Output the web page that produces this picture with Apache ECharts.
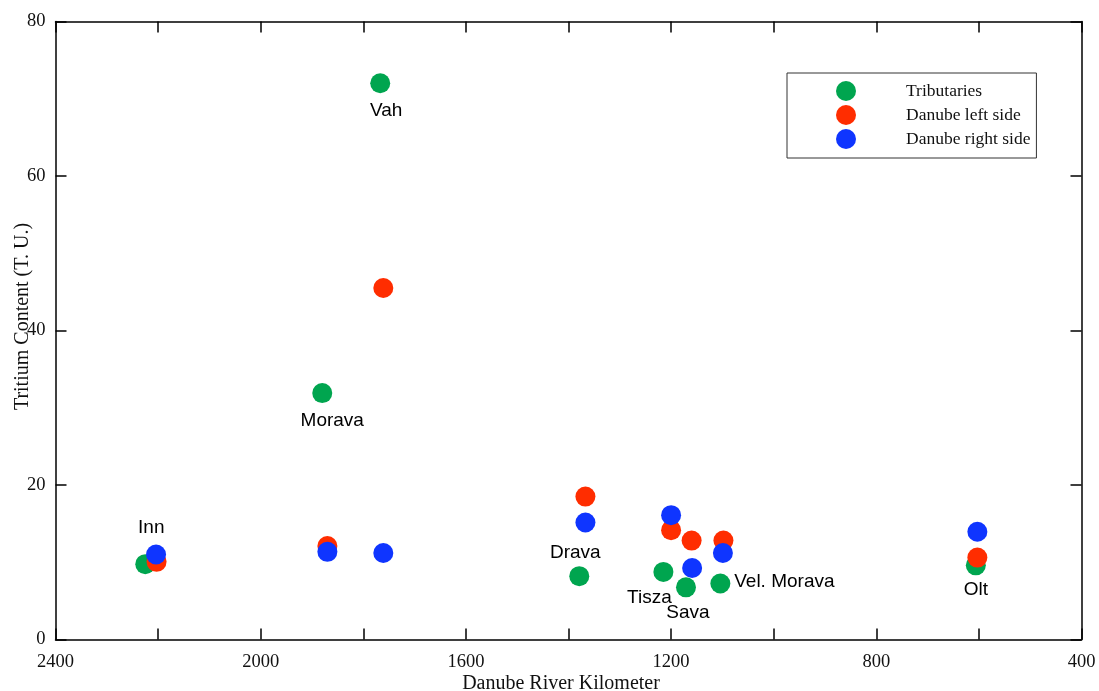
<!DOCTYPE html>
<html>
<head>
<meta charset="utf-8">
<script src="https://cdn.jsdelivr.net/npm/echarts@6/dist/echarts.min.js"></script>
<style>html,body{margin:0;padding:0;background:#fff}#c{width:1099px;height:691px}</style>
</head>
<body>
<div id="c"></div>
<script>
// ---- data ----
var tribNames = ['Inn', 'Morava', 'Vah', 'Drava', 'Tisza', 'Sava', 'Vel. Morava', 'Olt'];
var tribKm    = [2225, 1880, 1767, 1379, 1215, 1171, 1104, 606];
var tribTU    = [9.75, 31.9, 72.0, 8.2, 8.75, 6.75, 7.25, 9.6];
var leftKm    = [2203, 1870, 1761, 1367, 1200, 1160, 1098, 603];
var leftTU    = [10.05, 12.1, 45.5, 18.5, 14.15, 12.8, 12.8, 10.6];
var rightKm   = [2204, 1870, 1761, 1367, 1200, 1159, 1099, 603];
var rightTU   = [11.0, 11.35, 11.2, 15.15, 16.1, 9.25, 11.2, 13.95];
var seriesNames = ['Tributaries', 'Danube left side', 'Danube right side'];
var xTickLabels = [2400, 2000, 1600, 1200, 800, 400];
var yTickLabels = [0, 20, 40, 60, 80];

// ---- style (label offsets, px from point centre) ----
var labelOffsets = [[6, -36], [10, 28], [6, 27], [-4, -23], [-14, 26], [2, 25], [64, -2], [0, 24]];
var colors = ['#00a54f', '#ff2d00', '#0f35ff'];

function pairs(xs, ys) { return xs.map(function (x, i) { return [x, ys[i]]; }); }

var tribData = tribKm.map(function (x, i) {
  return {
    value: [x, tribTU[i]],
    name: tribNames[i],
    label: { show: true, position: 'inside', offset: labelOffsets[i], formatter: tribNames[i] }
  };
});

var serif = 'Liberation Serif, Times New Roman, serif';
var axisLineStyle = { color: '#000', width: 1.5 };

var chart = echarts.init(document.getElementById('c'), null, { renderer: 'canvas' });
chart.setOption({
  animation: false,
  backgroundColor: '#fff',
  grid: { left: 55.5, right: 17.5, top: 21.5, bottom: 51.5, containLabel: false, outerBoundsMode: 'none' },
  legend: {
    left: 787, top: 73,
    orient: 'vertical',
    data: seriesNames,
    icon: 'circle',
    itemWidth: 20, itemHeight: 20, itemGap: 4,
    padding: [8, 6, 9, 49],
    borderColor: '#333', borderWidth: 1,
    textStyle: { fontFamily: serif, fontSize: 17.5, color: '#111', padding: [0, 0, 0, 45] }
  },
  xAxis: [{
    type: 'value', inverse: true, min: 400, max: 2400, interval: 200,
    position: 'bottom',
    name: 'Danube River Kilometer', nameLocation: 'middle', nameGap: 34, nameMoveOverlap: false,
    nameTextStyle: { fontFamily: serif, fontSize: 20, color: '#111', padding: [0, 15, 0, 0] },
    axisLine: { show: true, onZero: false, lineStyle: axisLineStyle },
    axisTick: { show: true, inside: true, length: 11, lineStyle: axisLineStyle },
    axisLabel: {
      fontFamily: serif, fontSize: 18.5, color: '#111', margin: 13,
      formatter: function (v) { return xTickLabels.indexOf(v) >= 0 ? String(v) : ''; }
    },
    splitLine: { show: false }
  }, {
    type: 'value', inverse: true, min: 400, max: 2400, interval: 200,
    position: 'top',
    axisLine: { show: true, onZero: false, lineStyle: axisLineStyle },
    axisTick: { show: true, inside: true, length: 11, lineStyle: axisLineStyle },
    axisLabel: { show: false },
    splitLine: { show: false }
  }],
  yAxis: [{
    type: 'value', min: 0, max: 80, interval: 20,
    position: 'left',
    name: 'Tritium Content (T. U.)', nameLocation: 'middle', nameGap: 23, nameMoveOverlap: false,
    nameTextStyle: { fontFamily: serif, fontSize: 20, color: '#111', padding: [0, 0, 0, 28] },
    axisLine: { show: true, onZero: false, lineStyle: axisLineStyle },
    axisTick: { show: true, inside: true, length: 11, lineStyle: axisLineStyle },
    axisLabel: {
      fontFamily: serif, fontSize: 18.5, color: '#111', margin: 10,
      formatter: function (v) { return yTickLabels.indexOf(v) >= 0 ? String(v) : ''; }
    },
    splitLine: { show: false }
  }, {
    type: 'value', min: 0, max: 80, interval: 20,
    position: 'right',
    axisLine: { show: true, onZero: false, lineStyle: axisLineStyle },
    axisTick: { show: true, inside: true, length: 11, lineStyle: axisLineStyle },
    axisLabel: { show: false },
    splitLine: { show: false }
  }],
  series: [{
    name: seriesNames[0], type: 'scatter', symbol: 'circle', symbolSize: 20,
    itemStyle: { color: colors[0], opacity: 1 },
    label: { color: '#000', fontFamily: 'Liberation Sans, Arial, sans-serif', fontSize: 19 },
    data: tribData, z: 2
  }, {
    name: seriesNames[1], type: 'scatter', symbol: 'circle', symbolSize: 20,
    itemStyle: { color: colors[1], opacity: 1 },
    data: pairs(leftKm, leftTU), z: 3
  }, {
    name: seriesNames[2], type: 'scatter', symbol: 'circle', symbolSize: 20,
    itemStyle: { color: colors[2], opacity: 1 },
    data: pairs(rightKm, rightTU), z: 4
  }]
});
</script>
</body>
</html>
